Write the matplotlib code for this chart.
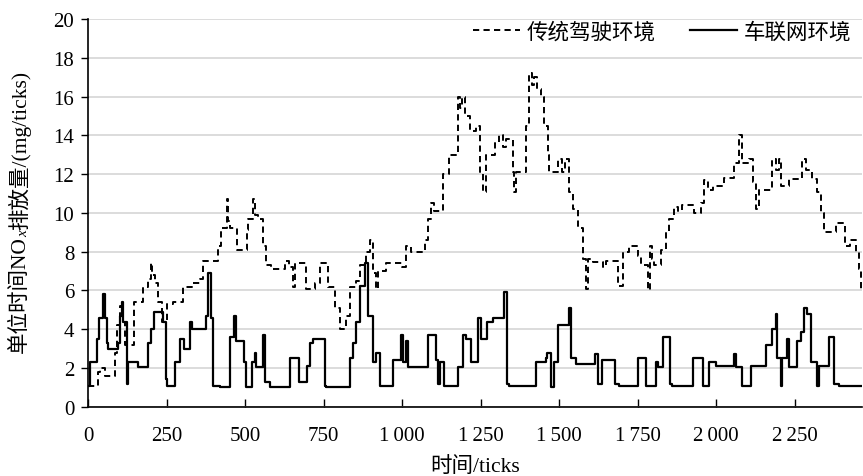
import matplotlib

matplotlib.use("Agg")
import matplotlib.pyplot as plt  # noqa: E402
from matplotlib.ticker import FuncFormatter  # noqa: E402

# 传统驾驶环境 (dashed) -- step breakpoints
trad_x = [0, 33, 38, 55, 86, 91, 102, 112, 118, 147, 176, 192, 200, 205, 213, 224, 236,
          250, 271, 303, 330, 356, 367, 414, 425, 441, 446, 452, 473, 505, 510, 526, 531,
          542, 558, 568, 584, 627, 640, 653, 658, 695, 722, 738, 764, 786, 801, 823, 833,
          854, 865, 886, 897, 907, 918, 923, 950, 1000, 1013, 1029, 1072, 1082, 1093, 1103,
          1130, 1151, 1178, 1185, 1192, 1199, 1215, 1236, 1247, 1257, 1268, 1295, 1310,
          1320, 1330, 1353, 1358, 1363, 1395, 1405, 1415, 1420, 1430, 1443, 1453, 1464,
          1469, 1496, 1510, 1520, 1533, 1543, 1559, 1575, 1586, 1591, 1607, 1640, 1650,
          1687, 1703, 1724, 1750, 1761, 1782, 1788, 1795, 1803, 1825, 1840, 1851, 1867,
          1880, 1890, 1931, 1952, 1962, 1975, 1990, 2026, 2058, 2074, 2084, 2105, 2116,
          2126, 2137, 2179, 2190, 2200, 2206, 2232, 2275, 2285, 2306, 2322, 2333, 2343,
          2381, 2412, 2425, 2444, 2455, 2462]
trad_y = [1.1, 1.8, 2.0, 1.6, 2.8, 4.2, 5.2, 4.4, 3.2, 5.4, 6.2, 6.6, 7.4, 6.8, 6.4, 5.4,
          4.4, 5.3, 5.4, 6.2, 6.4, 6.6, 7.5, 8.3, 9.2, 10.7, 9.6, 9.2, 8.1, 9.1, 9.7, 10.7,
          9.9, 9.7, 8.3, 7.3, 7.1, 7.5, 7.2, 6.2, 7.4, 6.1, 6.4, 7.4, 6.2, 5.1, 4.0, 4.7,
          6.2, 6.5, 7.3, 8.0, 8.6, 6.9, 6.1, 7.0, 7.4, 7.2, 8.3, 8.0, 8.6, 9.7, 10.5, 10.1,
          12.0, 13.0, 16.0, 15.4, 16.0, 15.0, 14.2, 14.5, 12.1, 11.1, 13.0, 13.6, 14.0,
          13.4, 13.8, 12.1, 11.1, 12.1, 14.5, 17.2, 16.6, 17.0, 16.4, 16.0, 14.5, 13.0,
          12.1, 12.8, 12.1, 12.8, 11.1, 10.2, 9.2, 7.6, 6.1, 7.6, 7.45, 7.2, 7.5, 6.25,
          8.0, 8.3, 7.8, 7.3, 6.0, 8.3, 7.6, 7.3, 8.1, 9.0, 9.7, 10.3, 10.1, 10.4, 10.0,
          10.5, 11.7, 11.2, 11.4, 11.8, 12.6, 14.0, 12.6, 12.8, 11.6, 10.2, 11.2, 12.8,
          12.2, 12.8, 11.4, 11.75, 12.8, 12.2, 11.75, 11.1, 10.0, 9.0, 9.5, 8.3, 8.6, 8.0,
          7.1, 6.0]

# 车联网环境 (solid)
net_x = [0, 6, 28, 35, 49, 54, 59, 65, 97, 102, 107, 112, 123, 128, 160, 192, 202, 210,
         240, 247, 253, 277, 293, 306, 324, 330, 377, 383, 392, 399, 420, 452, 465, 471,
         496, 503, 521, 531, 536, 556, 563, 579, 642, 671, 698, 706, 717, 754, 759, 833,
         844, 854, 865, 881, 891, 907, 918, 929, 971, 998, 1003, 1014, 1020, 1084, 1109,
         1114, 1120, 1135, 1178, 1193, 1205, 1220, 1241, 1252, 1270, 1290, 1326, 1333,
         1340, 1426, 1458, 1463, 1474, 1485, 1495, 1532, 1538, 1554, 1615, 1623, 1638,
         1679, 1690, 1750, 1777, 1809, 1815, 1830, 1854, 1860, 1925, 1957, 1978, 2000,
         2058, 2063, 2084, 2111, 2158, 2179, 2190, 2195, 2206, 2211, 2227, 2232, 2259,
         2269, 2280, 2291, 2301, 2322, 2328, 2359, 2375, 2390, 2465]
net_y = [1.1, 2.3, 3.5, 4.6, 5.8, 4.6, 3.3, 3.0, 3.3, 4.7, 5.4, 4.4, 1.2, 2.3, 2.05, 3.3,
         4.0, 4.9, 4.4, 1.45, 1.1, 2.3, 3.5, 3.0, 4.4, 4.0, 4.7, 6.9, 4.6, 1.1, 1.0, 3.6,
         4.7, 3.4, 2.3, 1.0, 2.3, 2.8, 2.05, 3.7, 1.3, 1.0, 2.5, 1.3, 2.1, 3.3, 3.5, 1.1,
         1.0, 2.5, 3.3, 4.4, 6.25, 7.4, 4.7, 2.3, 2.8, 1.1, 2.4, 3.7, 2.3, 3.4, 2.05, 3.7,
         2.4, 1.2, 2.3, 1.1, 2.05, 3.7, 3.5, 2.3, 4.6, 3.5, 4.4, 4.6, 5.9, 1.2, 1.1, 2.3,
         2.5, 2.8, 1.0, 2.3, 4.2, 5.1, 2.5, 2.2, 2.7, 1.2, 2.4, 1.2, 1.1, 2.5, 1.1, 2.3,
         2.05, 3.6, 1.2, 1.1, 2.5, 1.1, 2.3, 2.1, 2.7, 2.05, 1.1, 2.1, 3.2, 4.0, 4.8, 2.5,
         1.1, 2.5, 3.5, 2.05, 3.4, 3.85, 5.1, 4.8, 2.3, 1.1, 2.1, 3.6, 1.2, 1.1, 1.1]

x_ticks = [0, 250, 500, 750, 1000, 1250, 1500, 1750, 2000, 2250]
y_ticks = [0, 2, 4, 6, 8, 10, 12, 14, 16, 18, 20]

FAMILY = ["Liberation Serif", "Noto Sans CJK SC", "DejaVu Sans"]
plt.rcParams.update(
    {
        "font.family": FAMILY,
        "font.size": 15,
        "figure.facecolor": "white",
    }
)


def _thousands(v, _pos):
    return f"{int(v):,}".replace(",", "\u2009")


def _rotated_label(fig, x_px, y_center_px, parts):
    """Vertical label from pieces: (text, size, dx_px, dy_after_px, style)."""
    renderer = fig.canvas.get_renderer()
    heights = []
    for text, size, _dx, gap, style in parts:
        t = fig.text(0, 0, text, rotation=90, fontsize=size, fontstyle=style,
                     family=FAMILY)
        heights.append(t.get_window_extent(renderer).height + gap)
        t.remove()
    y = y_center_px - sum(heights) / 2
    W, H = fig.bbox.width, fig.bbox.height
    for (text, size, dx, _gap, style), h in zip(parts, heights):
        fig.text((x_px + dx) / W, y / H, text, rotation=90, fontsize=size,
                 fontstyle=style, family=FAMILY, ha="center", va="bottom")
        y += h


fig = plt.figure(figsize=(8.63, 4.77), dpi=100)
ax = fig.add_axes([0.102, 0.145, 0.897, 0.813])

ax.step(trad_x, trad_y, where="post", color="black", linewidth=1.4,
        linestyle=(0, (3.2, 2.2)), label="传统驾驶环境")
ax.step(net_x, net_y, where="post", color="black", linewidth=1.6, label="车联网环境")

ax.set_xlim(0, 2465)
ax.set_ylim(0, 20)
ax.set_xticks(x_ticks)
ax.set_yticks(y_ticks)
ax.xaxis.set_major_formatter(FuncFormatter(_thousands))
ax.grid(axis="y", color="#d9d9d9", linewidth=1.3)
ax.set_axisbelow(True)
for side in ("top", "right"):
    ax.spines[side].set_visible(False)
for side in ("left", "bottom"):
    ax.spines[side].set_linewidth(1.2)
ax.tick_params(axis="x", direction="in", length=6, width=1, pad=14, labelsize=15)
ax.tick_params(axis="y", direction="out", length=5, width=1, pad=5, labelsize=15)

ax.set_xlabel("时间/ticks", fontsize=15.5, labelpad=8)

# y label: 单位时间NO_x排放量/(mg/ticks), built from pieces so CJK fallback works
_rotated_label(
    fig, 20, 477 - 212,
    [("单位时间NO", 15.5, 0, -1, "normal"),
     ("x", 11, 4, 0, "italic"),
     ("排放量/(mg/ticks)", 15.5, 0, 0, "normal")],
)

ax.legend(loc="upper right", bbox_to_anchor=(0.997, 1.015), ncol=2, frameon=False,
          fontsize=15.5, handlelength=2.2, columnspacing=1.6, handletextpad=0.3,
          borderaxespad=0.0)

fig.savefig("out.png", dpi=100)
